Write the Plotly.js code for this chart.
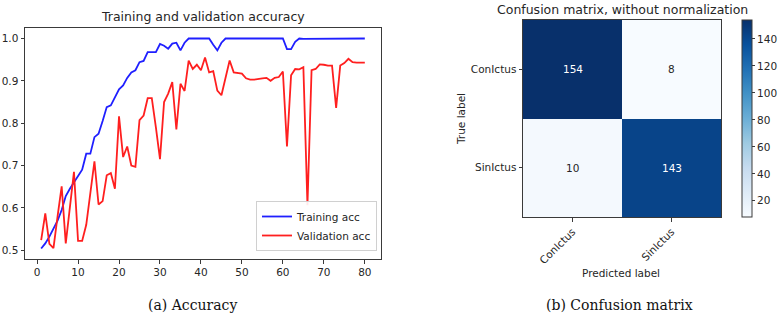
<!DOCTYPE html>
<html>
<head>
<meta charset="utf-8">
<script src="https://cdn.plot.ly/plotly-3.0.1.min.js"></script>
<style>html,body{margin:0;padding:0;background:#fff;}#chart{width:784px;height:316px;}</style>
</head>
<body>
<div id="chart"></div>
<script>
// ---- data ----
const epochs = Array.from({length: 80}, (_, i) => i + 1);
const trainingAcc = [
  0.504, 0.516, 0.532, 0.550, 0.570, 0.595, 0.628, 0.645, 0.660, 0.675,
  0.690, 0.728, 0.728, 0.767, 0.775, 0.805, 0.838, 0.842, 0.860, 0.880,
  0.889, 0.907, 0.920, 0.925, 0.944, 0.947, 0.968, 0.968, 0.968, 0.987,
  0.983, 0.976, 0.988, 0.990, 0.972, 0.990, 1.000, 1.000, 1.000, 1.000,
  1.000, 1.000, 0.985, 0.972, 0.990, 1.000, 1.000, 1.000, 1.000, 1.000,
  1.000, 1.000, 1.000, 1.000, 1.000, 1.000, 1.000, 1.000, 1.000, 1.000,
  0.975, 0.975, 0.992, 1.000, 0.999, 0.999, 0.999, 1.000, 1.000, 1.000,
  1.000, 1.000, 1.000, 1.000, 1.000, 1.000, 1.000, 1.000, 1.000, 1.000
];
const validationAcc = [
  0.524, 0.587, 0.515, 0.505, 0.580, 0.651, 0.516, 0.600, 0.685, 0.522,
  0.522, 0.560, 0.640, 0.710, 0.608, 0.616, 0.677, 0.682, 0.645, 0.816,
  0.720, 0.745, 0.700, 0.697, 0.807, 0.818, 0.859, 0.859, 0.790, 0.715,
  0.850, 0.870, 0.897, 0.785, 0.893, 0.876, 0.948, 0.928, 0.938, 0.925,
  0.955, 0.920, 0.923, 0.877, 0.866, 0.910, 0.948, 0.920, 0.918, 0.917,
  0.906, 0.903, 0.903, 0.905, 0.906, 0.907, 0.900, 0.907, 0.909, 0.922,
  0.745, 0.913, 0.928, 0.927, 0.932, 0.606, 0.925, 0.928, 0.939, 0.938,
  0.936, 0.936, 0.836, 0.936, 0.942, 0.952, 0.944, 0.943, 0.943, 0.943
];
const xTicks = [0, 10, 20, 30, 40, 50, 60, 70, 80];
const yTicks = [0.5, 0.6, 0.7, 0.8, 0.9, 1.0];

const classLabels = ['ConIctus', 'SinIctus'];
const confusion = [[154, 8], [10, 143]];
const cbTicks = [20, 40, 60, 80, 100, 120, 140];

// ---- styling ----
const W = 784, H = 316;
const px = v => v / W, py = v => 1 - v / H;
const txt = '#262626', spine = '#3a3a3a';
const sans = 'DejaVu Sans, sans-serif';

const blues = [
  [0.0, '#f7fbff'], [0.125, '#deebf7'], [0.25, '#c6dbef'], [0.375, '#9ecae1'],
  [0.5, '#6baed6'], [0.625, '#4292c6'], [0.75, '#2171b5'], [0.875, '#08519c'], [1.0, '#08306b']
];

const traces = [
  {x: epochs, y: trainingAcc, type: 'scatter', mode: 'lines', name: 'Training acc',
   line: {color: '#1f1fff', width: 1.8}, xaxis: 'x', yaxis: 'y'},
  {x: epochs, y: validationAcc, type: 'scatter', mode: 'lines', name: 'Validation acc',
   line: {color: '#ff1f1f', width: 1.8}, xaxis: 'x', yaxis: 'y'},
  {x: classLabels, y: classLabels, z: confusion, type: 'heatmap', xaxis: 'x2', yaxis: 'y2',
   colorscale: blues, showscale: true, hoverinfo: 'skip', showlegend: false,
   colorbar: {x: px(742), xanchor: 'left', y: py(217), yanchor: 'bottom', len: 197 / H,
     lenmode: 'fraction', thickness: 10, thicknessmode: 'pixels', outlinecolor: spine, outlinewidth: 1,
     tickmode: 'array', tickvals: cbTicks, ticks: 'outside', ticklen: 3, tickcolor: spine,
     tickfont: {family: sans, size: 10.5, color: txt}, xpad: 0, ypad: 0}}
];

const zvals = confusion.flat();
const zmax = Math.max(...zvals);
const annotations = [];
confusion.forEach((row, i) => row.forEach((v, j) => {
  annotations.push({x: classLabels[j], y: classLabels[i], xref: 'x2', yref: 'y2', text: String(v),
    xanchor: 'center', yanchor: 'middle',
    showarrow: false, font: {family: sans, size: 10.5, color: v > zmax / 2 ? '#ffffff' : txt}});
}));
const note = (text, x, y, font, extra) => Object.assign({text: text, xref: 'paper', yref: 'paper',
  x: px(x), y: py(y), xanchor: 'center', yanchor: 'middle', showarrow: false, font: font}, extra || {});
annotations.push(
  note('Training and validation accuracy', 203, 16, {family: sans, size: 12.5, color: txt}),
  note('Confusion matrix, without normalization', 622, 9.5, {family: sans, size: 12.5, color: txt}),
  note('True label', 461, 119, {family: sans, size: 10.5, color: txt}, {textangle: -90}),
  note('Predicted label', 621, 273, {family: sans, size: 10.5, color: txt}),
  note('(a) Accuracy', 192, 305, {family: 'DejaVu Serif, serif', size: 14, color: '#111'}),
  note('(b) Confusion matrix', 619, 305, {family: 'DejaVu Serif, serif', size: 14, color: '#111'})
);

const axCommon = {showgrid: false, zeroline: false, showline: true, mirror: true, linecolor: spine,
  linewidth: 1, ticks: 'outside', ticklen: 3.5, tickcolor: spine,
  tickfont: {family: sans, size: 10.5, color: txt}};

const layout = {
  width: W, height: H, margin: {l: 0, r: 0, t: 0, b: 0}, paper_bgcolor: '#fff', plot_bgcolor: '#fff',
  showlegend: true,
  xaxis: Object.assign({}, axCommon, {domain: [px(25), px(381)], range: [-2.95, 83.95],
    tickmode: 'array', tickvals: xTicks, anchor: 'y'}),
  yaxis: Object.assign({}, axCommon, {domain: [py(259), py(28)], range: [0.4792, 1.0248],
    tickmode: 'array', tickvals: yTicks, tickformat: '.1f', anchor: 'x'}),
  xaxis2: Object.assign({}, axCommon, {domain: [px(523), px(721)], anchor: 'y2', tickangle: -45,
    type: 'category', categoryarray: classLabels}),
  yaxis2: Object.assign({}, axCommon, {domain: [py(217), py(20)], anchor: 'x2', autorange: 'reversed',
    type: 'category', categoryarray: classLabels}),
  legend: {x: px(377), xanchor: 'right', y: py(251), yanchor: 'bottom', bgcolor: 'rgba(255,255,255,0.9)',
    bordercolor: '#d0d0d0', borderwidth: 1, font: {family: sans, size: 10.5, color: txt},
    tracegroupgap: 0, itemwidth: 30},
  annotations: annotations
};

Plotly.newPlot('chart', traces, layout, {staticPlot: true, displayModeBar: false});
</script>
</body>
</html>
